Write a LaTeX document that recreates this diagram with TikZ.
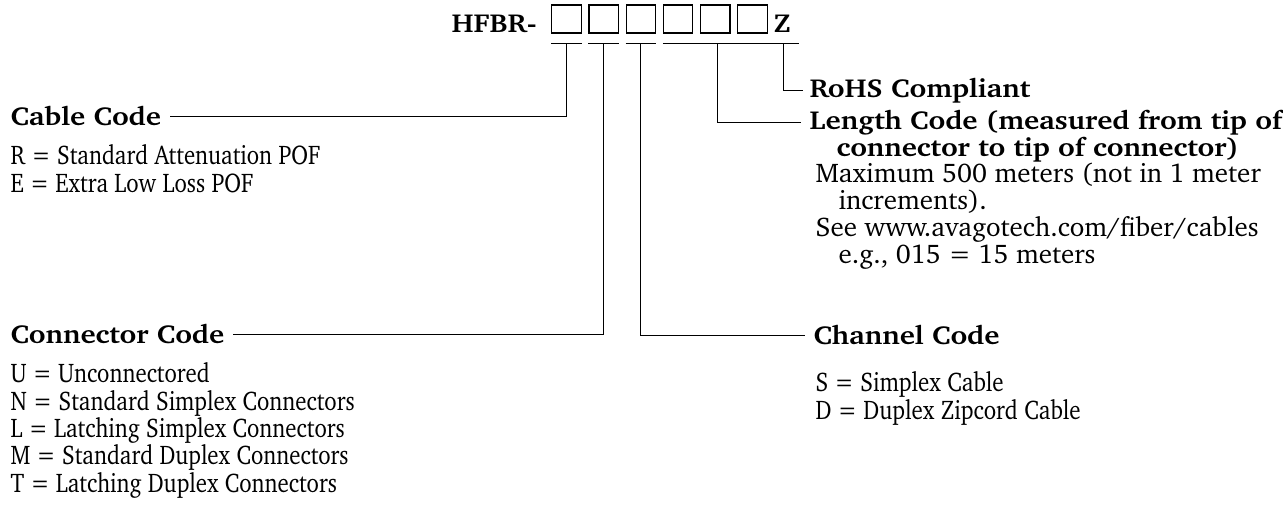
\documentclass[tikz,border=0pt]{standalone}
\usepackage[T1]{fontenc}
\usepackage{charter}
\usetikzlibrary{positioning}
\newcommand\hd[1]{\scalebox{1.11}[1]{#1}}
\newcommand\lst[2]{\scalebox{#1}[1]{\vtop{\halign{##\hfil\cr#2\crcr}}}}
\begin{document}
\begin{tikzpicture}[x=1pt, y=-1pt, line width=1.1pt,
    digit/.style = {draw, line width=1.2pt, minimum width=29.5pt, minimum height=28pt, inner sep=0pt},
    head/.style = {font=\bfseries\fontsize{26}{27.3}\selectfont, inner sep=0pt, anchor=base west},
    body/.style = {font=\fontsize{27}{27.3}\selectfont, inner sep=0pt, anchor=base west}]
  \useasboundingbox (0,0) rectangle (1283,510);
  % part number
  \node[head, anchor=base east] (hfbr) at (537,33) {\hd{HFBR-}};
  \node[digit] (d1) at (566.5,19) {};
  \foreach \i [count=\j from 2] in {1,...,5}
    \node[digit, right=6.5pt of d\i] (d\j) {};
  \node[head] (z) at (773,33) {\hd{Z}};
  % underlines
  \foreach \i in {1,2,3}
    \draw ([yshift=-9.5pt]d\i.south west) -- ([yshift=-9.5pt]d\i.south east);
  \draw ([yshift=-9.5pt]d4.south west) -- ([yshift=-9.5pt]d6.south east);
  \draw ([xshift=-5pt, yshift=-10pt]z.south west) -- ([xshift=8pt, yshift=-10pt]z.south east);
  % labels
  \node[head] (rohs) at (809,98) {\hd{RoHS Compliant}};
  \node[head] (lenA) at (809,130) {\hd{Length Code (measured from tip of}};
  \node[head] (lenB) at (836,157) {\hd{connector to tip of connector)}};
  \node[body, font=\fontsize{27}{26.8}\selectfont] (len) at (815,183) {\lst{1.0}{Maximum 500 meters (not in 1 meter\cr
    \hspace*{23pt}increments).\cr
    See www.avagotech.com/fiber/cables\cr
    \hspace*{23pt}e.g., 015 = 15 meters}};
  \node[head] (cable) at (10,126) {\hd{Cable Code}};
  \node[body] (cab) at (10,165) {\lst{0.847}{R = Standard Attenuation POF\cr
    E = Extra Low Loss POF}};
  \node[head] (conn) at (10,344) {\hd{Connector Code}};
  \node[body] (con) at (10,383) {\lst{0.847}{U = Unconnectored\cr
    N = Standard Simplex Connectors\cr
    L = Latching Simplex Connectors\cr
    M = Standard Duplex Connectors\cr
    T = Latching Duplex Connectors}};
  \node[head] (chan) at (813,345) {\hd{Channel Code}};
  \node[body] (cha) at (815,392) {\lst{0.852}{S = Simplex Cable\cr
    D = Duplex Zipcord Cable}};
  % leaders
  \draw ([xshift=1.5pt, yshift=-10pt]z.south) |- ([xshift=-6pt]rohs.west);
  \draw ([xshift=2pt, yshift=-9.5pt]d5.south) |- ([xshift=-8pt]lenA.west);
  \draw ([yshift=-9.5pt]d1.south) |- ([xshift=8pt]cable.east);
  \draw ([yshift=-9.5pt]d2.south) |- ([xshift=8pt]conn.east);
  \draw ([yshift=-9.5pt]d3.south) |- ([xshift=-8pt]chan.west);
\end{tikzpicture}
\end{document}
